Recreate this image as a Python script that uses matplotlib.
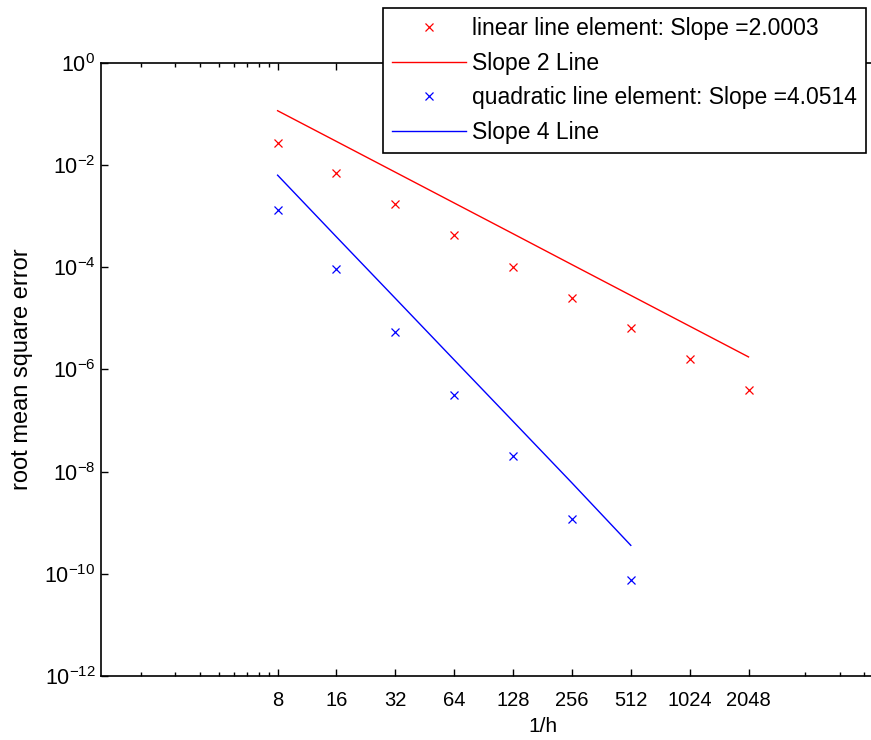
import numpy as np
import matplotlib
matplotlib.use("Agg")
from matplotlib import pyplot as plt

# data
n_vals = [8, 16, 32, 64, 128, 256, 512, 1024, 2048]
linear_err = [2.65e-2, 6.85e-3, 1.69e-3, 4.25e-4, 9.9e-5, 2.52e-5, 6.34e-6, 1.59e-6, 3.94e-7]
slope2_line = [0.115, 2.88e-2, 7.2e-3, 1.8e-3, 4.5e-4, 1.12e-4, 2.8e-5, 7.0e-6, 1.75e-6]

n_quad = [8, 16, 32, 64, 128, 256, 512]
quad_err = [1.31e-3, 9.06e-5, 5.44e-6, 3.14e-7, 2.01e-8, 1.16e-9, 7.53e-11]
slope4_line = [6.3e-3, 3.9e-4, 2.45e-5, 1.53e-6, 9.6e-8, 6.0e-9, 3.6e-10]

x_ticks = [8, 16, 32, 64, 128, 256, 512, 1024, 2048]
x_minor = [1.6, 2.4, 3.2, 4.0, 4.8, 5.6, 6.4, 7.2, 4000, 6000, 8000, 10000, 12000, 14000]
y_ticks = [1e0, 1e-2, 1e-4, 1e-6, 1e-8, 1e-10, 1e-12]
y_labels = ['0', '-2', '-4', '-6', '-8', '-10', '-12']

legend_labels = ['linear line element: Slope =2.0003', 'Slope 2 Line',
                 'quadratic line element: Slope =4.0514', 'Slope 4 Line']

plt.rcParams['font.family'] = ['Liberation Sans', 'DejaVu Sans']
plt.rcParams['mathtext.fontset'] = 'custom'
plt.rcParams['mathtext.rm'] = 'Liberation Sans'

fig = plt.figure(figsize=(8.71, 7.4), dpi=100)
# axes runs off the right edge like the cropped original
ax = fig.add_axes([101 / 871, 1 - 676 / 740, (984 - 101) / 871, (676 - 62.7) / 740])

ax.plot(n_vals, linear_err, 'x', color='r', ms=6, mew=0.9, label=legend_labels[0])
ax.plot(n_vals, slope2_line, '-', color='r', lw=1.0, label=legend_labels[1])
ax.plot(n_quad, quad_err, 'x', color='b', ms=6, mew=0.9, label=legend_labels[2])
ax.plot(n_quad, slope4_line, '-', color='b', lw=1.0, label=legend_labels[3])

ax.set_xscale('log')
ax.set_yscale('log')
ax.set_xlim(1, 32768)
ax.set_ylim(1e-12, 1)

ax.set_xticks(x_ticks)
ax.set_xticklabels([str(v) for v in x_ticks])
ax.set_xticks(x_minor, minor=True)
ax.xaxis.set_minor_formatter(matplotlib.ticker.NullFormatter())
ax.set_yticks(y_ticks)
ax.set_yticklabels([r'$\mathregular{10^{%s}}$' % s for s in y_labels])
ax.yaxis.set_minor_locator(matplotlib.ticker.NullLocator())

ax.tick_params(which='both', direction='in', top=True, right=True, width=1)
ax.tick_params(axis='x', which='major', length=5, pad=11, labelsize=14.5)
ax.tick_params(axis='y', which='major', length=5, pad=4, labelsize=15.5)
ax.tick_params(which='minor', length=3)
for s in ax.spines.values():
    s.set_linewidth(1.2)

ax.set_xlabel('1/h', fontsize=15, labelpad=5)
ax.set_ylabel('root mean square error', fontsize=17, labelpad=8)

leg = ax.legend(loc='upper left', bbox_to_anchor=(383 / 871, 1 - 8 / 740),
                bbox_transform=fig.transFigure, fontsize=16.5, fancybox=False,
                framealpha=1, edgecolor='black', borderpad=0.4, labelspacing=0.5,
                handlelength=3.2, handletextpad=0.3, borderaxespad=0)
leg.get_frame().set_linewidth(1.2)

fig.savefig('out.png', dpi=100)
